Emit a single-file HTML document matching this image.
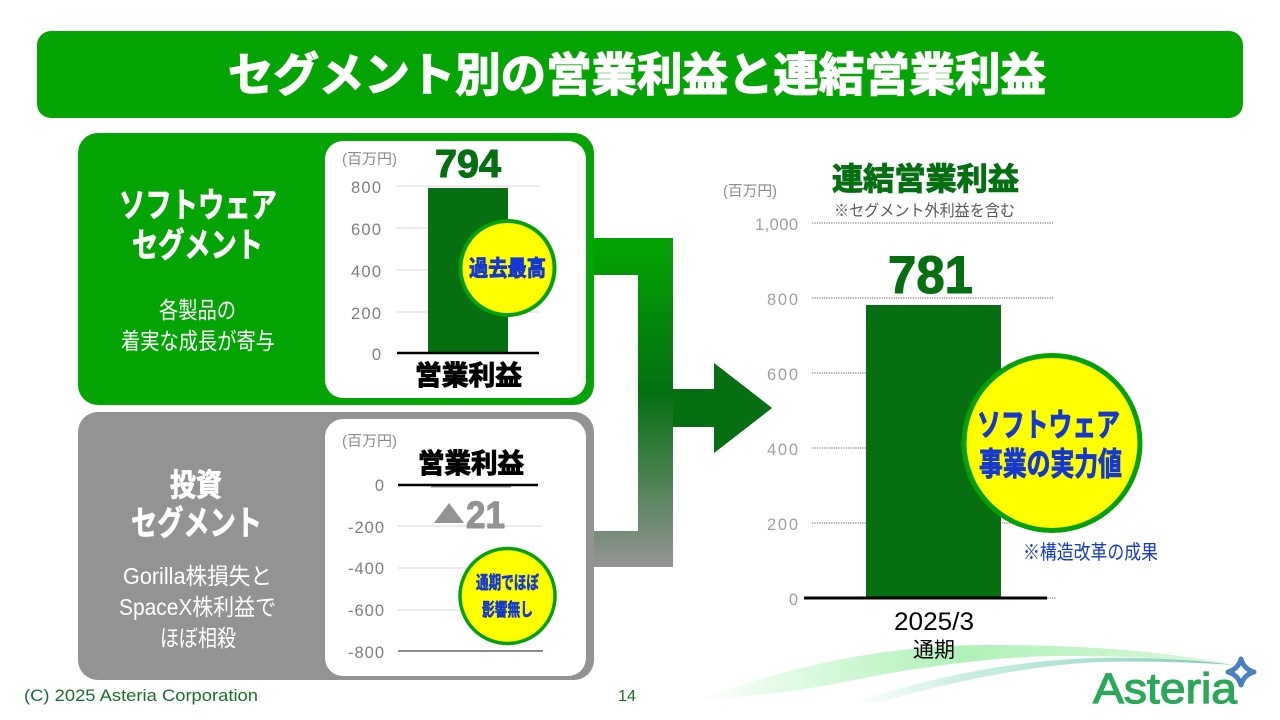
<!DOCTYPE html>
<html lang="ja"><head><meta charset="utf-8"><title>セグメント別の営業利益と連結営業利益</title>
<style>
html,body{margin:0;padding:0;background:#fff;width:1280px;height:720px;overflow:hidden}
svg{display:block}
text{font-family:"Liberation Sans","Noto Sans CJK JP",sans-serif}
.b{font-weight:700}
.ax{font-size:16.5px;fill:#7f7f7f;text-anchor:end}
.ax2{font-size:16.5px;fill:#a0a0a0;text-anchor:end}
.u{font-size:14.5px;fill:#8c8c8c}
.w{fill:#fff}
.wb{fill:#fff;font-weight:700;stroke:#fff;stroke-width:.8}
.bl{fill:#1438d0;font-weight:700;stroke:#1438d0;stroke-width:.9}
.k{fill:#000;font-weight:700;stroke:#000;stroke-width:1.1}
.g{fill:#056f12;font-weight:700;stroke:#056f12;stroke-width:1.1}
</style></head><body>
<svg width="1280" height="720" viewBox="0 0 1280 720" xmlns="http://www.w3.org/2000/svg">
<defs>
<linearGradient id="conn" gradientUnits="userSpaceOnUse" x1="0" y1="238" x2="0" y2="567">
<stop offset="0" stop-color="#04a404"/><stop offset=".47" stop-color="#056f12"/><stop offset="1" stop-color="#949494"/>
</linearGradient>
<linearGradient id="sw1" gradientUnits="userSpaceOnUse" x1="697" y1="0" x2="1234" y2="0">
<stop offset="0" stop-color="#b0f2b8" stop-opacity="0"/><stop offset=".25" stop-color="#b0f2b8" stop-opacity=".55"/><stop offset=".5" stop-color="#b0f2b8"/><stop offset="1" stop-color="#dcf8dc"/>
</linearGradient>
<linearGradient id="sw2" gradientUnits="userSpaceOnUse" x1="850" y1="0" x2="1234" y2="0">
<stop offset="0" stop-color="#a8e2cc" stop-opacity="0"/><stop offset=".3" stop-color="#a8e2d0" stop-opacity=".6"/><stop offset=".65" stop-color="#a8e2d0"/><stop offset="1" stop-color="#7fc8b8"/>
</linearGradient>
</defs>

<!-- title -->
<rect x="37" y="31" width="1206" height="87" rx="14" fill="#04a404"/>
<text x="228" y="91" font-size="46" class="wb" style="stroke-width:1.4" textLength="818" lengthAdjust="spacingAndGlyphs">セグメント別の営業利益と連結営業利益</text>

<!-- connector -->
<path d="M590 238H673V389H714V363L772 408L714 453V427H673V567H590V531H638V275H590Z" fill="url(#conn)"/>
<path d="M673 389H714V363L772 408L714 453V427H673Z" fill="#056f12"/>

<!-- green panel -->
<rect x="78" y="133" width="516" height="272" rx="20" fill="#04a404"/>
<rect x="325" y="141" width="261" height="257" rx="18" fill="#fff"/>
<text x="119" y="217" font-size="34" class="wb" textLength="158" lengthAdjust="spacingAndGlyphs">ソフトウェア</text>
<text x="132" y="257" font-size="34" class="wb" textLength="131" lengthAdjust="spacingAndGlyphs">セグメント</text>
<text x="159" y="318" font-size="23" class="w" textLength="77" lengthAdjust="spacingAndGlyphs">各製品の</text>
<text x="121" y="349" font-size="23" class="w" textLength="154" lengthAdjust="spacingAndGlyphs">着実な成長が寄与</text>

<text x="342" y="164" class="u" textLength="55" lengthAdjust="spacingAndGlyphs">(百万円)</text>
<text x="435" y="177" font-size="39" class="g" textLength="66" lengthAdjust="spacingAndGlyphs">794</text>
<path d="M396 186H540M396 228H540M396 270H540M396 312H540" stroke="#d9d9d9" stroke-width="1"/>
<rect x="428" y="188" width="80" height="165" fill="#056f12"/>
<path d="M397 353H539" stroke="#000" stroke-width="2.5"/>
<text x="381" y="193" class="ax" textLength="30">800</text><text x="381" y="235" class="ax" textLength="30">600</text><text x="381" y="277" class="ax" textLength="30">400</text><text x="381" y="319" class="ax" textLength="30">200</text><text x="381" y="360" class="ax">0</text>
<circle cx="507.5" cy="268" r="47" fill="#ff0" stroke="#04a004" stroke-width="4"/>
<text x="469" y="276" font-size="22" class="bl" textLength="77" lengthAdjust="spacingAndGlyphs">過去最高</text>
<text x="415" y="385" font-size="27" class="k" textLength="107" lengthAdjust="spacingAndGlyphs">営業利益</text>

<!-- grey panel -->
<rect x="78" y="412" width="516" height="268" rx="20" fill="#939393"/>
<rect x="325" y="419" width="261" height="257" rx="18" fill="#fff"/>
<text x="170" y="496" font-size="31" class="wb" textLength="52" lengthAdjust="spacingAndGlyphs">投資</text>
<text x="131" y="535" font-size="34" class="wb" textLength="131" lengthAdjust="spacingAndGlyphs">セグメント</text>
<text x="123" y="584" font-size="23" class="w" textLength="149" lengthAdjust="spacingAndGlyphs">Gorilla株損失と</text>
<text x="119" y="615" font-size="23" class="w" textLength="157" lengthAdjust="spacingAndGlyphs">SpaceX株利益で</text>
<text x="160" y="646" font-size="23" class="w" textLength="76" lengthAdjust="spacingAndGlyphs">ほぼ相殺</text>

<text x="342" y="446" class="u" textLength="55" lengthAdjust="spacingAndGlyphs">(百万円)</text>
<text x="418" y="473" font-size="27" class="k" textLength="106" lengthAdjust="spacingAndGlyphs">営業利益</text>
<path d="M398 526H542M398 568H542M398 610H542M538 484H542" stroke="#d9d9d9" stroke-width="1"/>
<rect x="431" y="485" width="80" height="2.5" fill="#8a8a8a"/>
<path d="M398 485H538" stroke="#000" stroke-width="2.5"/>
<path d="M398 651H543" stroke="#8a8a8a" stroke-width="2"/>
<text x="384" y="491" class="ax">0</text><text x="384" y="533" class="ax" textLength="36">-200</text><text x="384" y="574" class="ax" textLength="36">-400</text><text x="384" y="616" class="ax" textLength="36">-600</text><text x="384" y="658" class="ax" textLength="36">-800</text>
<path d="M434 523L449 503L464 523Z" fill="#939393"/>
<text x="466" y="528" font-size="38" class="b" fill="#939393" stroke="#939393" stroke-width="1.1" textLength="39" lengthAdjust="spacingAndGlyphs">21</text>
<circle cx="507.5" cy="596" r="47.5" fill="#ff0" stroke="#04a004" stroke-width="3.5"/>
<text x="476" y="589" font-size="18" class="bl" style="stroke-width:.6" textLength="63" lengthAdjust="spacingAndGlyphs">通期でほぼ</text>
<text x="482" y="616" font-size="18" class="bl" style="stroke-width:.6" textLength="51" lengthAdjust="spacingAndGlyphs">影響無し</text>

<!-- right chart -->
<text x="723" y="196" class="u" textLength="54" lengthAdjust="spacingAndGlyphs">(百万円)</text>
<text x="832" y="190" font-size="31" class="g" textLength="187" lengthAdjust="spacingAndGlyphs">連結営業利益</text>
<text x="834" y="216" font-size="16" fill="#595959" textLength="181" lengthAdjust="spacingAndGlyphs">※セグメント外利益を含む</text>
<path d="M812 223H1054M812 298H1054M812 373H1054M812 448H1054M812 523H1054M1040 598H1056" stroke="#7f7f7f" stroke-width="1.2" stroke-dasharray="1.2 1.2" fill="none"/>
<text x="798" y="230" class="ax2" textLength="43">1,000</text><text x="798" y="305" class="ax2" textLength="31">800</text><text x="798" y="380" class="ax2" textLength="31">600</text><text x="798" y="455" class="ax2" textLength="31">400</text><text x="798" y="530" class="ax2" textLength="31">200</text><text x="798" y="605" class="ax2">0</text>
<text x="888" y="293" font-size="53" class="g" textLength="85" lengthAdjust="spacingAndGlyphs">781</text>
<rect x="866" y="305" width="135" height="293" fill="#056f12"/>
<path d="M804 598H1047" stroke="#000" stroke-width="3"/>
<ellipse cx="1052" cy="443" rx="88" ry="87.5" fill="#ff0" stroke="#04a004" stroke-width="5"/>
<text x="977" y="436" font-size="32" class="bl" textLength="143" lengthAdjust="spacingAndGlyphs">ソフトウェア</text>
<text x="979" y="475" font-size="32" class="bl" textLength="143" lengthAdjust="spacingAndGlyphs">事業の実力値</text>
<text x="1023" y="559" font-size="20" fill="#1438d0" textLength="135" lengthAdjust="spacingAndGlyphs">※構造改革の成果</text>

<!-- swooshes -->
<path d="M697 700C760 678 860 645 988 645C1090 645 1170 652 1234 665C1180 658 1120 656 1060 656C990 656 900 670 834 684C790 692 750 697 697 700Z" fill="url(#sw1)"/>
<path d="M853 702C900 688 990 660 1100 658C1150 657 1200 660 1234 665C1190 662 1140 661 1100 662C1030 665 950 682 880 702Z" fill="url(#sw2)"/>

<text x="894" y="630" font-size="25" fill="#000" textLength="80" lengthAdjust="spacingAndGlyphs">2025/3</text>
<text x="913" y="657" font-size="21" fill="#000" textLength="42" lengthAdjust="spacingAndGlyphs">通期</text>

<!-- footer -->
<text x="24" y="701" font-size="17" fill="#1c6e2c" textLength="234" lengthAdjust="spacingAndGlyphs">(C) 2025 Asteria Corporation</text>
<text x="618" y="701" font-size="16" fill="#1c6e2c" textLength="18" lengthAdjust="spacingAndGlyphs">14</text>
<text x="1093" y="703" font-size="43" fill="#2aa85a" stroke="#2aa85a" stroke-width="1.2" textLength="144" lengthAdjust="spacingAndGlyphs">Asteria</text>
<path d="M1241 659C1243 666 1247 670 1254 672C1247 674 1243 678 1241 685C1239 678 1235 674 1228 672C1235 670 1239 666 1241 659Z" fill="#fff" stroke="#4a7fc0" stroke-width="5" stroke-linejoin="round"/>
</svg>
</body></html>
